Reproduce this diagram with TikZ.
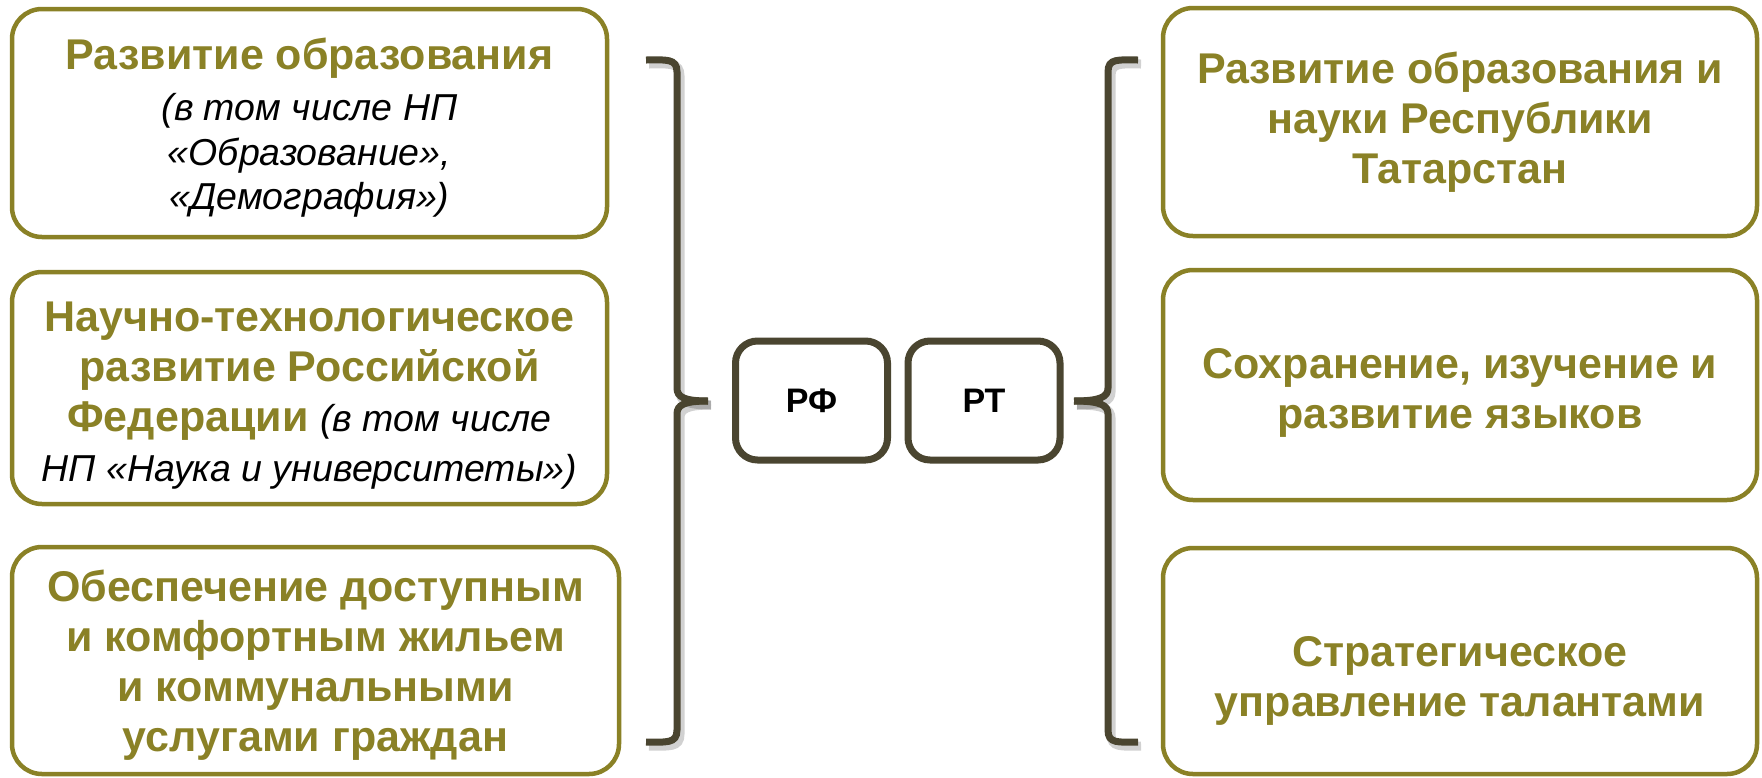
\documentclass[tikz,border=0pt]{standalone}
\usepackage{fontspec}
\setmainfont{Liberation Sans}
\definecolor{olv}{RGB}{138,129,38}
\definecolor{drk}{RGB}{74,69,48}
\newcommand\itx[1]{{\mdseries\itshape\color{black}\fontsize{37.5}{50}\selectfont #1}}
\begin{document}
\begin{tikzpicture}[x=1pt,y=-1pt,
  obox/.style={draw=olv, line width=4.5pt, rounded corners=30pt, inner sep=0pt},
  txt/.style={align=center, text=olv, font=\fontsize{43}{50}\selectfont\bfseries, inner sep=0pt},
  kbox/.style={draw=drk, line width=7pt, rounded corners=22pt,
    font=\fontsize{34}{40}\selectfont\bfseries, inner sep=0pt,
    minimum width=152pt, minimum height=119pt},
  brk/.style={draw=drk, line width=7pt},
  shd/.style={draw=black, opacity=0.18, line width=9pt}]
\useasboundingbox (0,0) rectangle (1762,777);

% left boxes
\node[obox, minimum width=595pt, minimum height=228pt,
  label={[txt, yshift=-5pt]center:{Развитие образования\\[1pt] \itx{(в том числе НП}\\[-5pt] \itx{«Образование»,}\\[-6pt] \itx{«Демография»)}}}]
  (L1) at (309.5,123) {};
\node[obox, minimum width=595pt, minimum height=232pt,
  label={[txt, yshift=-8pt]center:{Научно-технологическое\\ развитие Российской\\ Федерации \itx{(в том числе}\\ \itx{НП «Наука и университеты»)}}}]
  (L2) at (309.5,388) {};
\node[obox, minimum width=607pt, minimum height=227pt,
  label={[txt, yshift=-5pt]center:{Обеспечение доступным\\ и комфортным жильем\\ и коммунальными\\ услугами граждан}}]
  (L3) at (315.5,660.5) {};

% right boxes
\node[obox, minimum width=594pt, minimum height=228pt,
  label={[txt]center:{Развитие образования и\\ науки Республики\\ Татарстан}}]
  (R1) at (1460,122) {};
\node[obox, minimum width=594pt, minimum height=230pt,
  label={[txt, yshift=-8pt]center:{Сохранение, изучение и\\ развитие языков}}]
  (R2) at (1460,385) {};
\node[obox, minimum width=594pt, minimum height=226pt,
  label={[txt, yshift=-20pt]center:{Стратегическое\\ управление талантами}}]
  (R3) at (1460,661) {};

% middle boxes
\node[kbox] (RF) at (811.5,400.5) {РФ};
\node[kbox] (RT) at (984,400.5) {РТ};

% bracket tips
\coordinate (lt) at (708,401);
\coordinate (rt) at (1074,401);

% shadows
\begin{scope}[shift={(3,4)}]
\draw[shd] (646,60) .. controls (666,60) and (677,58) .. (677,72) -- (677,388) .. controls (677,397) and (684,401) .. (708,401);
\draw[shd] (708,401) .. controls (684,401) and (677,405) .. (677,414) -- (677,730) .. controls (677,744) and (666,742) .. (646,742);
\draw[shd] (1138,60) .. controls (1118,60) and (1108,58) .. (1108,72) -- (1108,388) .. controls (1108,397) and (1100,401) .. (1074,401);
\draw[shd] (1074,401) .. controls (1100,401) and (1108,405) .. (1108,414) -- (1108,730) .. controls (1108,744) and (1118,742) .. (1138,742);
\end{scope}

% brackets
\draw[brk] (646,60) .. controls (666,60) and (677,58) .. (677,72) -- (677,388) .. controls (677,397) and (684,401) .. (lt);
\draw[brk] (lt) .. controls (684,401) and (677,405) .. (677,414) -- (677,730) .. controls (677,744) and (666,742) .. (646,742);
\draw[brk] (1138,60) .. controls (1118,60) and (1108,58) .. (1108,72) -- (1108,388) .. controls (1108,397) and (1100,401) .. (rt);
\draw[brk] (rt) .. controls (1100,401) and (1108,405) .. (1108,414) -- (1108,730) .. controls (1108,744) and (1118,742) .. (1138,742);
\end{tikzpicture}
\end{document}
